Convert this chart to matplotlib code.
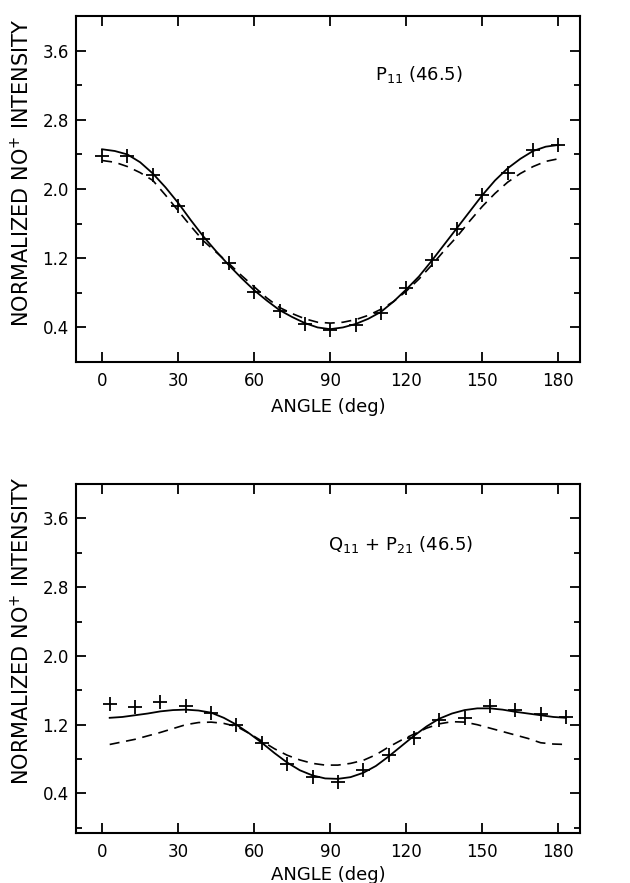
import numpy as np
import matplotlib
matplotlib.use("Agg")
import matplotlib.pyplot as plt
from matplotlib.ticker import MultipleLocator

# ---- top panel : P11 (46.5) ----
angles_top = [0, 10, 20, 30, 40, 50, 60, 70, 80, 90, 100, 110, 120, 130, 140, 150, 160, 170, 180]
points_top = [2.38, 2.38, 2.16, 1.80, 1.42, 1.15, 0.81, 0.59, 0.44, 0.37, 0.43, 0.57, 0.86, 1.18, 1.54, 1.93, 2.18, 2.45, 2.51]

curve_angles_top = [0, 5, 10, 15, 20, 25, 30, 35, 40, 45, 50, 55, 60, 65, 70, 75, 80, 85, 90,
                    95, 100, 105, 110, 115, 120, 125, 130, 135, 140, 145, 150, 155, 160, 165, 170, 175, 180]
solid_top = [2.46, 2.44, 2.40, 2.31, 2.18, 2.02, 1.84, 1.64, 1.45, 1.28, 1.12, 0.97, 0.83, 0.71, 0.60, 0.52, 0.45, 0.40, 0.38,
             0.40, 0.44, 0.50, 0.58, 0.70, 0.84, 0.99, 1.17, 1.36, 1.55, 1.74, 1.93, 2.10, 2.24, 2.35, 2.44, 2.49, 2.51]
dashed_top = [2.33, 2.31, 2.26, 2.19, 2.10, 1.93, 1.75, 1.57, 1.40, 1.27, 1.14, 1.00, 0.87, 0.74, 0.63, 0.56, 0.50, 0.46, 0.45,
              0.46, 0.49, 0.54, 0.61, 0.70, 0.82, 0.96, 1.12, 1.29, 1.45, 1.63, 1.80, 1.95, 2.08, 2.18, 2.26, 2.32, 2.35]

# ---- bottom panel : Q11 + P21 (46.5) ----
angles_bot = [3, 13, 23, 33, 43, 53, 63, 73, 83, 93, 103, 113, 123, 133, 143, 153, 163, 173, 183]
points_bot = [1.44, 1.41, 1.46, 1.42, 1.34, 1.20, 0.99, 0.74, 0.59, 0.53, 0.67, 0.85, 1.04, 1.26, 1.28, 1.42, 1.37, 1.32, 1.29]

curve_angles_bot = [3, 8, 13, 18, 23, 28, 33, 38, 43, 48, 53, 58, 63, 68, 73, 78, 83, 88, 93,
                    98, 103, 108, 113, 118, 123, 128, 133, 138, 143, 148, 153, 158, 163, 168, 173, 178, 183]
solid_bot = [1.28, 1.29, 1.31, 1.33, 1.355, 1.37, 1.375, 1.365, 1.34, 1.28, 1.20, 1.10, 0.99, 0.87, 0.76, 0.67, 0.61, 0.575, 0.57,
             0.59, 0.64, 0.72, 0.83, 0.95, 1.07, 1.18, 1.27, 1.33, 1.37, 1.39, 1.39, 1.375, 1.35, 1.33, 1.31, 1.29, 1.28]
dashed_bot = [0.97, 1.00, 1.03, 1.07, 1.11, 1.155, 1.20, 1.225, 1.23, 1.215, 1.18, 1.10, 1.01, 0.92, 0.845, 0.79, 0.75, 0.73, 0.73,
              0.75, 0.785, 0.85, 0.94, 1.02, 1.09, 1.16, 1.21, 1.235, 1.23, 1.20, 1.16, 1.12, 1.08, 1.04, 0.99, 0.975, 0.97]

x_ticks = [0, 30, 60, 90, 120, 150, 180]
y_ticks = [0.4, 1.2, 2.0, 2.8, 3.6]

plt.rcParams['font.family'] = ['DejaVu Sans']
plt.rcParams['mathtext.fontset'] = 'dejavusans'

fig = plt.figure(figsize=(6.3, 8.83), dpi=100)
ax1 = fig.add_axes([0.1206, 0.5900, 0.8000, 0.3918])
ax2 = fig.add_axes([0.1206, 0.0566, 0.8000, 0.3953])


def style(ax, ylim, xlab_y, ylab_y):
    ax.set_xlim(-10.3, 188.5)
    ax.set_ylim(*ylim)
    ax.set_xticks(x_ticks)
    ax.set_yticks(y_ticks)
    ax.yaxis.set_minor_locator(MultipleLocator(0.4))
    ax.tick_params(which='both', direction='in', top=True, right=True,
                   labelsize=12, width=1.3)
    ax.tick_params(axis='x', pad=7)
    ax.tick_params(axis='y', pad=5)
    ax.tick_params(which='major', length=7)
    ax.tick_params(which='minor', length=4.5)
    ax.set_yticklabels([f"{v:.1f}" for v in y_ticks])
    for s in ax.spines.values():
        s.set_linewidth(1.5)
    ax.set_xlabel("ANGLE (deg)", fontsize=13)
    ax.set_ylabel("NORMALIZED NO$^{+}$ INTENSITY", fontsize=15)
    ax.xaxis.set_label_coords(0.5, xlab_y)
    ax.yaxis.set_label_coords(-0.085, ylab_y)


ax1.plot(curve_angles_top, solid_top, color='black', lw=1.3)
ax1.plot(curve_angles_top, dashed_top, color='black', lw=1.2, linestyle=(0, (6, 4)))
ax1.plot(angles_top, points_top, linestyle='none', marker='+', markersize=9.5,
         markeredgewidth=1.3, color='black')
ax1.text(107.5, 3.33, r"P$_{11}$ (46.5)", fontsize=13, va='center', ha='left')
style(ax1, (0, 4.0), -0.104, 0.548)

ax2.plot(curve_angles_bot, solid_bot, color='black', lw=1.3)
ax2.plot(curve_angles_bot, dashed_bot, color='black', lw=1.2, linestyle=(0, (6, 4)))
ax2.plot(angles_bot, points_bot, linestyle='none', marker='+', markersize=9.5,
         markeredgewidth=1.3, color='black')
ax2.text(89, 3.3, r"Q$_{11}$ + P$_{21}$ (46.5)", fontsize=13, va='center', ha='left')
style(ax2, (-0.06, 4.0), -0.095, 0.58)

fig.savefig("out.png", dpi=100)
